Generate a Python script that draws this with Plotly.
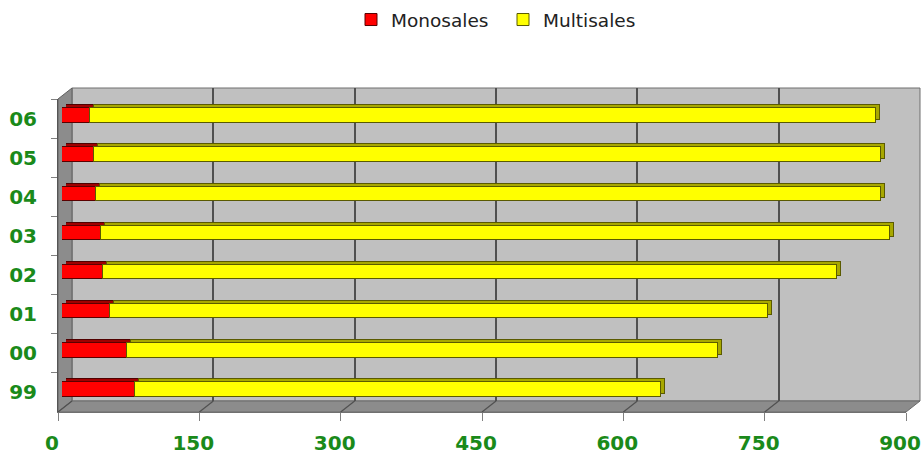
import plotly.graph_objects as go

# ---- data ----
years = ["99", "00", "01", "02", "03", "04", "05", "06"]
monosales = [77, 69, 51, 44, 41, 36, 34, 30]
multisales = [559, 627, 698, 778, 838, 833, 835, 834]
x_ticks = [0, 150, 300, 450, 600, 750, 900]

W, H = 924, 454
def px(x):
    return x / W
def py(y):
    return 1 - y / H

# front frame (window pixels) and depth offsets
FX0, FX1, FY0, FY1 = 58, 906, 99, 412
DX, DY = 14, -11              # back wall offset
BDX, BDY = 4, -3              # bar front-face offset from front frame
SDX, SDY = 4, -3              # bar extrusion
LBL_DX = -6                   # tick labels sit slightly left of the tick marks
scale = (FX1 - FX0) / 900.0

GREEN = "#1a8a1a"
tickfont = dict(family="DejaVu Sans", size=20, color=GREEN, weight="bold")

fig = go.Figure()

# back wall grid holder
fig.add_trace(go.Scatter(x=[None], y=[None], xaxis="x2", yaxis="y2",
                         showlegend=False, hoverinfo="skip"))
# label axis holder
fig.add_trace(go.Scatter(x=[None], y=[None], xaxis="x5", yaxis="y",
                         showlegend=False, hoverinfo="skip"))

# extrusion (top face / end cap) bars
fig.add_trace(go.Bar(y=years, x=monosales, orientation="h", xaxis="x3", yaxis="y3",
                     marker=dict(color="#a00000", line=dict(color="#500000", width=1)),
                     width=0.37, showlegend=False, hoverinfo="skip"))
fig.add_trace(go.Bar(y=years, x=multisales, orientation="h", xaxis="x3", yaxis="y3",
                     marker=dict(color="#a8a800", line=dict(color="#5a5a00", width=1)),
                     width=0.37, showlegend=False, hoverinfo="skip"))

# front faces
fig.add_trace(go.Bar(name="Monosales", y=years, x=monosales, orientation="h",
                     xaxis="x4", yaxis="y4",
                     marker=dict(color="#ff0000", line=dict(color="#5a0000", width=1)),
                     width=0.37))
fig.add_trace(go.Bar(name="Multisales", y=years, x=multisales, orientation="h",
                     xaxis="x4", yaxis="y4",
                     marker=dict(color="#ffff00", line=dict(color="#5a5a00", width=1)),
                     width=0.37))

shapes = []
# back wall
shapes.append(dict(type="rect", xref="paper", yref="paper", layer="below",
                   x0=px(FX0 + DX), x1=px(FX1 + DX), y0=py(FY1 + DY), y1=py(FY0 + DY),
                   fillcolor="#c0c0c0", line=dict(color="#6e6e6e", width=1)))
# left wall
shapes.append(dict(type="path", xref="paper", yref="paper", layer="below",
                   path=f"M{px(FX0)},{py(FY0)} L{px(FX0+DX)},{py(FY0+DY)} L{px(FX0+DX)},{py(FY1+DY)} L{px(FX0)},{py(FY1)} Z",
                   fillcolor="#8c8c8c", line=dict(color="#606060", width=1)))
# floor
shapes.append(dict(type="path", xref="paper", yref="paper", layer="below",
                   path=f"M{px(FX0)},{py(FY1)} L{px(FX0+DX)},{py(FY1+DY)} L{px(FX1+DX)},{py(FY1+DY)} L{px(FX1)},{py(FY1)} Z",
                   fillcolor="#8c8c8c", line=dict(color="#6a6a6a", width=1)))
# floor diagonals at ticks
for v in x_ticks:
    shapes.append(dict(type="line", xref="x", yref="paper", layer="below",
                       x0=v, x1=v + DX / scale, y0=py(FY1), y1=py(FY1 + DY),
                       line=dict(color="#505050", width=1.2)))

fig.update_layout(
    template="none",
    width=W, height=H,
    margin=dict(l=0, r=0, t=0, b=0, pad=0),
    paper_bgcolor="white", plot_bgcolor="rgba(0,0,0,0)",
    barmode="stack", bargap=0,
    shapes=shapes,
    showlegend=True,
    legend=dict(orientation="h", x=px(351), xanchor="left", y=py(1), yanchor="top",
                font=dict(family="DejaVu Sans", size=18.5, color="#222222"),
                entrywidth=107,
                traceorder="normal", bgcolor="rgba(0,0,0,0)", borderwidth=0),
    # front axes (ticks)
    xaxis=dict(domain=[px(FX0), px(FX1)], range=[0, 900], anchor="y", automargin=False,
               tickvals=x_ticks, ticks="outside", ticklen=8, tickcolor="#808080",
               showticklabels=False, showgrid=False, zeroline=False,
               showline=True, linecolor="#707070"),
    # front labels axis
    xaxis5=dict(domain=[px(FX0 + LBL_DX), px(FX1 + LBL_DX)], range=[0, 900], anchor="y",
                automargin=False, tickvals=x_ticks, ticks="outside", ticklen=8,
                tickcolor="rgba(0,0,0,0)", tickfont=tickfont, ticklabelstandoff=5,
                ticklabeloverflow="allow", showgrid=False, zeroline=False, showline=False),
    yaxis=dict(domain=[py(FY1), py(FY0)], anchor="x", type="category", automargin=False,
               categoryorder="array", categoryarray=years, range=[-0.5, 7.5],
               ticks="outside", tickson="boundaries", ticklen=6, tickcolor="#808080",
               tickfont=tickfont, ticklabelstandoff=16, showgrid=False, zeroline=False,
               showline=True, linecolor="#555555"),
    # back wall grid
    xaxis2=dict(domain=[px(FX0 + DX), px(FX1 + DX)], range=[0, 900], anchor="y2",
                automargin=False,
                tickvals=x_ticks, showgrid=True, gridcolor="#505050", gridwidth=1.5,
                showticklabels=False, ticks="", zeroline=False, showline=False),
    yaxis2=dict(domain=[py(FY1 + DY), py(FY0 + DY)], anchor="x2", range=[0, 1],
                automargin=False,
                showgrid=False, showticklabels=False, zeroline=False, showline=False),
    # extrusion bars
    xaxis3=dict(domain=[px(FX0 + BDX + SDX), px(FX1 + BDX + SDX)], range=[0, 900], anchor="y3",
                visible=False),
    yaxis3=dict(domain=[py(FY1 + BDY + SDY), py(FY0 + BDY + SDY)], anchor="x3", type="category",
                categoryorder="array", categoryarray=years, range=[-0.5, 7.5], visible=False),
    # front bars
    xaxis4=dict(domain=[px(FX0 + BDX), px(FX1 + BDX)], range=[0, 900], anchor="y4",
                visible=False),
    yaxis4=dict(domain=[py(FY1 + BDY), py(FY0 + BDY)], anchor="x4", type="category",
                categoryorder="array", categoryarray=years, range=[-0.5, 7.5], visible=False),
)

fig.write_html("out.html", config={"displayModeBar": False},
               post_script="document.body.style.margin='0px';document.body.style.padding='0px';")
